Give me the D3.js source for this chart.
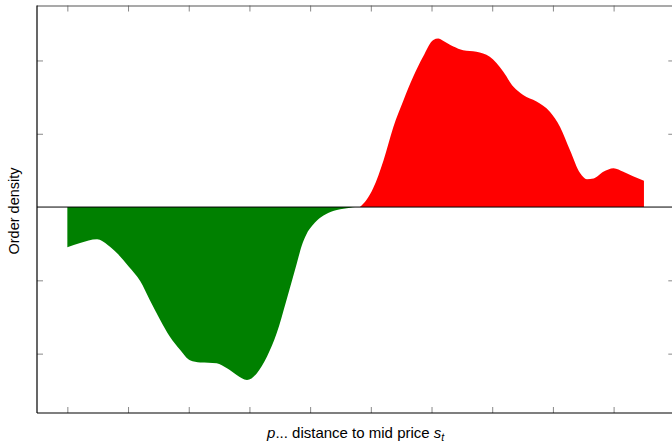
<!DOCTYPE html>
<html>
<head>
<meta charset="utf-8">
<script src="https://cdn.jsdelivr.net/npm/d3@7"></script>
<style>
  html, body { margin: 0; padding: 0; background: #fff; }
  svg { display: block; }
  text { font-family: "Liberation Sans", Arial, Helvetica, sans-serif; }
</style>
</head>
<body>
<svg id="chart" width="672" height="443"></svg>
<script>
// Tick positions (no tick labels are shown)
const xTicks = [0, 1, 2, 3, 4, 5, 6, 7, 8, 9];
const yTicks = [-2, -1, 0, 1, 2];

// Bid side (below mid price): distance and negative density
const bidDist = [0, 0.21, 0.49, 0.67, 0.82, 1.01, 1.20, 1.36, 1.53, 1.69, 1.86, 2.02, 2.19, 2.46, 2.63, 2.79, 2.96, 3.12, 3.29, 3.45, 3.61, 3.78, 3.86, 3.94, 4.03, 4.13, 4.25, 4.44, 4.66, 4.74];
const bidDensity = [-0.55, -0.49, -0.44, -0.52, -0.63, -0.81, -1.01, -1.27, -1.54, -1.77, -1.95, -2.09, -2.12, -2.13, -2.20, -2.29, -2.36, -2.27, -2.04, -1.72, -1.27, -0.77, -0.53, -0.37, -0.26, -0.17, -0.10, -0.04, -0.01, 0];

// Ask side (above mid price): distance and positive density
const askDist = [4.82, 4.93, 5.04, 5.21, 5.37, 5.54, 5.70, 5.86, 6.03, 6.11, 6.19, 6.36, 6.52, 6.74, 6.96, 7.18, 7.35, 7.51, 7.73, 7.95, 8.12, 8.28, 8.45, 8.56, 8.67, 8.83, 9.00, 9.16, 9.32, 9.50];
const askDensity = [0, 0.10, 0.26, 0.64, 1.09, 1.46, 1.78, 2.05, 2.28, 2.30, 2.27, 2.19, 2.14, 2.12, 2.05, 1.85, 1.64, 1.53, 1.44, 1.30, 1.09, 0.78, 0.46, 0.38, 0.39, 0.48, 0.53, 0.48, 0.42, 0.36];

const svg = d3.select("#chart");
const plotLeft = 37, plotRight = 674.3, plotTop = 5.5, plotBottom = 413;

const x = d3.scaleLinear().domain([-0.5, 10]).range([plotLeft, plotRight]);
const y = d3.scaleLinear().domain([-2.81, 2.75]).range([plotBottom, plotTop]);

const bid = bidDist.map((d, i) => ({ d, v: bidDensity[i] }));
const ask = askDist.map((d, i) => ({ d, v: askDensity[i] }));

const area = d3.area()
  .x(p => x(p.d))
  .y0(y(0))
  .y1(p => y(p.v))
  .curve(d3.curveMonotoneX);

svg.append("path").datum(bid).attr("d", area).attr("fill", "#008000");
svg.append("path").datum(ask).attr("d", area).attr("fill", "#ff0000");

// Zero line
svg.append("line")
  .attr("x1", plotLeft).attr("x2", 672)
  .attr("y1", y(0)).attr("y2", y(0))
  .attr("stroke", "#000").attr("stroke-width", 1);

// Tick marks on all four sides
function styleAxis(g) {
  g.select(".domain").remove();
  g.selectAll(".tick line").attr("stroke", "#888").attr("stroke-width", 1);
  g.selectAll(".tick text").remove();
}
svg.append("g").attr("transform", `translate(0,${plotBottom})`)
  .call(d3.axisBottom(x).tickValues(xTicks).tickSize(-6).tickFormat(""))
  .call(styleAxis);
svg.append("g").attr("transform", `translate(0,${plotTop})`)
  .call(d3.axisTop(x).tickValues(xTicks).tickSize(-6).tickFormat(""))
  .call(styleAxis);
svg.append("g").attr("transform", `translate(${plotLeft},0)`)
  .call(d3.axisLeft(y).tickValues(yTicks.filter(t => t !== 0)).tickSize(-6).tickFormat(""))
  .call(styleAxis);
svg.append("g").attr("transform", `translate(${plotRight},0)`)
  .call(d3.axisRight(y).tickValues(yTicks.filter(t => t !== 0)).tickSize(-6).tickFormat(""))
  .call(styleAxis);

// Frame
svg.append("line").attr("x1", plotLeft).attr("x2", 672).attr("y1", 6).attr("y2", 6)
  .attr("stroke", "#555").attr("stroke-width", 1.2);
svg.append("line").attr("x1", plotLeft).attr("x2", 672).attr("y1", plotBottom).attr("y2", plotBottom)
  .attr("stroke", "#000").attr("stroke-width", 1.2);
svg.append("line").attr("x1", plotLeft).attr("x2", plotLeft).attr("y1", 5.5).attr("y2", plotBottom)
  .attr("stroke", "#000").attr("stroke-width", 1.2);

// Axis titles
svg.append("text")
  .attr("transform", `translate(19,211) rotate(-90)`)
  .attr("text-anchor", "middle")
  .attr("font-size", 14.5)
  .text("Order density");

const xl = svg.append("text")
  .attr("x", (plotLeft + plotRight) / 2).attr("y", 438)
  .attr("text-anchor", "middle")
  .attr("font-size", 15);
xl.append("tspan").attr("font-style", "italic").text("p");
xl.append("tspan").text("... distance to mid price ");
xl.append("tspan").attr("font-style", "italic").text("s");
xl.append("tspan").attr("font-style", "italic").attr("font-size", 10.5).attr("dy", 3).text("t");
</script>
</body>
</html>
